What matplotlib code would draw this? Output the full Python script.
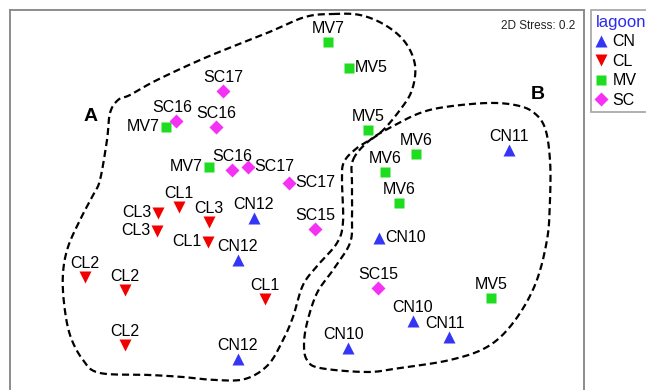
import numpy as np
import matplotlib
matplotlib.use("Agg")
import matplotlib.pyplot as plt
from matplotlib.lines import Line2D

plt.rcParams["font.family"] = ["Liberation Sans", "DejaVu Sans"]

# nMDS ordination coordinates, one list per lagoon
CN_X = [2.09, -0.46, -0.62, -0.62, 0.79, 1.13, 1.49, 0.48]
CN_Y = [0.50, -0.18, -0.60, -1.59, -0.38, -1.21, -1.37, -1.48]
CN_LAB = ["CN11", "CN12", "CN12", "CN12", "CN10", "CN10", "CN11", "CN10"]

CL_X = [-1.42, -1.21, -0.91, -1.43, -0.92, -2.15, -1.75, -0.35, -1.75]
CL_Y = [-0.13, -0.07, -0.22, -0.31, -0.42, -0.77, -0.90, -0.99, -1.45]
CL_LAB = ["CL3", "CL1", "CL3", "CL3", "CL1", "CL2", "CL2", "CL1", "CL2"]

MV_X = [0.28, 0.49, -1.34, 0.68, -0.91, 1.16, 0.85, 0.99, 1.91]
MV_Y = [1.58, 1.32, 0.73, 0.70, 0.33, 0.46, 0.28, -0.03, -0.98]
MV_LAB = ["MV7", "MV5", "MV7", "MV5", "MV7", "MV6", "MV6", "MV6", "MV5"]

SC_X = [-0.77, -1.24, -0.84, -0.68, -0.52, -0.11, 0.15, 0.78]
SC_Y = [1.09, 0.79, 0.73, 0.30, 0.33, 0.17, -0.29, -0.88]
SC_LAB = ["SC17", "SC16", "SC16", "SC16", "SC17", "SC17", "SC15", "SC15"]

# cluster outlines (control points, smoothed below)
HULL_A_X = [0.33, 0.60, 0.85, 1.05, 1.15, 1.12, 1.00, 0.80, 0.57, 0.44, 0.42, 0.43, 0.37,
            0.18, 0.03, -0.07, -0.17, -0.32, -0.55, -0.85, -1.17, -1.50, -2.00, -2.17,
            -2.30, -2.36, -2.37, -2.32, -2.20, -2.07, -2.00, -1.93, -1.90, -1.82, -1.70,
            -1.43, -0.93, -0.33, 0.05]
HULL_A_Y = [1.86, 1.85, 1.75, 1.58, 1.35, 1.10, 0.90, 0.67, 0.52, 0.38, 0.20, -0.22, -0.43,
            -0.65, -0.85, -1.17, -1.40, -1.65, -1.79, -1.80, -1.77, -1.75, -1.73, -1.60,
            -1.35, -1.03, -0.73, -0.47, -0.20, 0.05, 0.20, 0.60, 0.87, 1.00, 1.05,
            1.20, 1.43, 1.67, 1.83]
HULL_B_X = [0.53, 0.70, 0.95, 1.20, 1.45, 1.87, 2.15, 2.33, 2.45, 2.50, 2.50, 2.47, 2.35,
            2.13, 1.87, 1.50, 1.00, 0.67, 0.20, 0.07, 0.04, 0.07, 0.17, 0.33, 0.50, 0.52, 0.52]
HULL_B_Y = [0.40, 0.60, 0.75, 0.87, 0.93, 0.97, 0.95, 0.88, 0.72, 0.40, 0.00, -0.40, -0.85,
            -1.23, -1.47, -1.60, -1.68, -1.72, -1.68, -1.60, -1.45, -1.23, -0.93, -0.70,
            -0.43, -0.17, 0.15]

# label side for each point: a = above, l = left, r = right
CN_POS = ["a", "a", "a", "a", "r", "a", "a2", "a2"]
CL_POS = ["l", "a", "a", "l", "l", "a", "a", "a", "a"]
MV_POS = ["a", "r", "l", "a", "l", "a", "a", "a", "a"]
SC_POS = ["a", "a2", "a", "a", "r", "r", "a", "a"]

C_CN = "#3535f5"
C_CL = "#f20000"
C_MV = "#1edc1e"
C_SC = "#f531f5"


def closed_spline(xs, ys, n=20):
    p = np.column_stack([xs, ys])
    k = len(p)
    out = []
    t = np.linspace(0, 1, n, endpoint=False)[:, None]
    for i in range(k):
        p0, p1, p2, p3 = p[i - 1], p[i], p[(i + 1) % k], p[(i + 2) % k]
        seg = 0.5 * (2 * p1 + (-p0 + p2) * t + (2 * p0 - 5 * p1 + 4 * p2 - p3) * t ** 2
                     + (-p0 + 3 * p1 - 3 * p2 + p3) * t ** 3)
        out.append(seg)
    out = np.vstack(out + [p[:1]])
    return out[:, 0], out[:, 1]


fig = plt.figure(figsize=(6.46, 3.9), dpi=100)
ax = fig.add_axes([10 / 646, -5 / 390, 574 / 646, 385 / 390])
ax.set_xlim(-2.90, 2.84)
ax.set_ylim(-1.95, 1.90)
ax.set_xticks([]); ax.set_yticks([])
for s in ax.spines.values():
    s.set_color("#8c8c8c"); s.set_linewidth(1.4)

for hx, hy in [(HULL_A_X, HULL_A_Y), (HULL_B_X, HULL_B_Y)]:
    sx, sy = closed_spline(hx, hy)
    ax.plot(sx, sy, color="black", lw=1.6, ls=(0, (3.2, 1.8)), zorder=1)

groups = [(CN_X, CN_Y, CN_LAB, CN_POS, "^", C_CN, 9),
          (CL_X, CL_Y, CL_LAB, CL_POS, "v", C_CL, 9),
          (MV_X, MV_Y, MV_LAB, MV_POS, "s", C_MV, 7),
          (SC_X, SC_Y, SC_LAB, SC_POS, "D", C_SC, 7)]
for xs, ys, labs, pos, mk, col, ms in groups:
    ax.plot(xs, ys, ls="none", marker=mk, color=col, markersize=ms, mec="none", zorder=3)
    for x, y, lab, p in zip(xs, ys, labs, pos):
        if p == "a":
            off, ha, va = (0, 4.5), "center", "bottom"
        elif p == "a2":
            off, ha, va = (-3, 4.5), "center", "bottom"
        elif p == "l":
            off, ha, va = (-4.5, 0), "right", "center"
        else:
            off, ha, va = (4.5, 0), "left", "center"
        ax.annotate(lab, (x, y), textcoords="offset points", xytext=off, ha=ha, va=va,
                    fontsize=11.5, color="black", zorder=4)

ax.text(-2.09, 0.83, "A", fontsize=14, fontweight="bold", ha="center", va="center")
ax.text(2.38, 1.05, "B", fontsize=14, fontweight="bold", ha="center", va="center")
ax.text(0.985, 0.975, "2D Stress: 0.2", transform=ax.transAxes, ha="right", va="top",
        fontsize=8.5, color="#222222")

handles = [Line2D([], [], ls="none", marker="^", color=C_CN, markersize=9, mec="none"),
           Line2D([], [], ls="none", marker="v", color=C_CL, markersize=9, mec="none"),
           Line2D([], [], ls="none", marker="s", color=C_MV, markersize=7, mec="none"),
           Line2D([], [], ls="none", marker="D", color=C_SC, markersize=7, mec="none")]
leg = fig.legend(handles, ["CN", "CL", "MV", "SC"], title="lagoon", loc="upper left",
                 bbox_to_anchor=(591 / 646, 1 - 10 / 390), fontsize=11.5, title_fontsize=12,
                 frameon=True, fancybox=False, borderpad=0.3, handlelength=0.7,
                 handletextpad=0.35, labelspacing=0.28, alignment="left", borderaxespad=0)
leg.get_title().set_color("#2b2bf0")
leg.get_frame().set_edgecolor("#8c8c8c")
leg.get_frame().set_linewidth(1.2)

fig.savefig("out.png", dpi=100)
